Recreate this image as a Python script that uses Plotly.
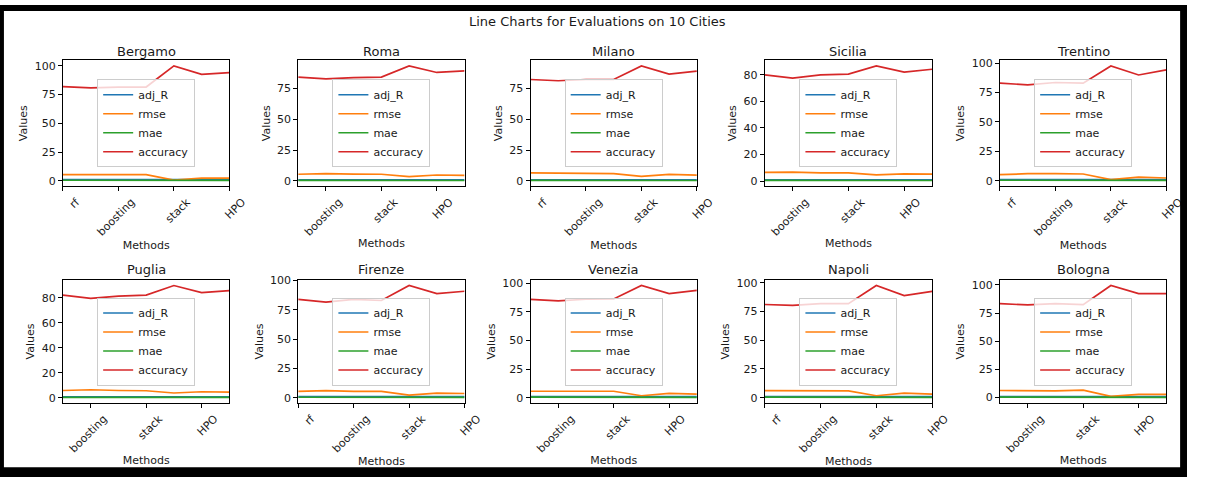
import plotly.graph_objects as go

# ---------------- data ----------------
cities = ["Bergamo", "Roma", "Milano", "Sicilia", "Trentino",
          "Puglia", "Firenze", "Venezia", "Napoli", "Bologna"]
method_pos = [0, 1, 2, 3, 4, 5, 6]
series_names = ["adj_R", "rmse", "mae", "accuracy"]

adj_R = [
    [0.92, 0.91, 0.92, 0.92, 0.99, 0.97, 0.97],
    [0.90, 0.89, 0.90, 0.90, 0.95, 0.92, 0.93],
    [0.90, 0.89, 0.90, 0.90, 0.95, 0.92, 0.93],
    [0.88, 0.87, 0.88, 0.88, 0.92, 0.90, 0.91],
    [0.91, 0.90, 0.91, 0.91, 0.99, 0.96, 0.97],
    [0.89, 0.88, 0.89, 0.89, 0.93, 0.91, 0.92],
    [0.91, 0.90, 0.91, 0.91, 0.98, 0.95, 0.96],
    [0.91, 0.90, 0.91, 0.91, 0.98, 0.95, 0.96],
    [0.90, 0.90, 0.91, 0.91, 0.98, 0.95, 0.96],
    [0.91, 0.90, 0.91, 0.90, 0.99, 0.96, 0.96],
]
rmse = [
    [5.2, 5.2, 5.2, 5.2, 0.5, 2.3, 2.3],
    [5.4, 5.9, 5.5, 5.4, 3.5, 4.8, 4.5],
    [6.6, 6.5, 6.0, 6.0, 3.7, 5.3, 4.8],
    [6.5, 6.7, 6.2, 6.2, 4.7, 5.5, 5.2],
    [5.1, 6.0, 6.0, 5.7, 1.0, 3.1, 2.3],
    [5.9, 6.5, 5.9, 5.7, 3.9, 4.9, 4.6],
    [5.5, 6.1, 5.5, 5.5, 2.2, 3.9, 3.6],
    [5.6, 5.6, 5.6, 5.6, 1.7, 3.7, 3.1],
    [6.2, 6.2, 5.9, 5.9, 1.7, 3.9, 3.1],
    [6.3, 6.0, 6.0, 6.6, 1.1, 2.9, 2.9],
]
mae = [
    [0.40, 0.41, 0.40, 0.40, 0.10, 0.25, 0.25],
    [0.45, 0.47, 0.45, 0.45, 0.30, 0.40, 0.38],
    [0.50, 0.50, 0.48, 0.48, 0.32, 0.42, 0.40],
    [0.50, 0.52, 0.49, 0.49, 0.38, 0.44, 0.42],
    [0.40, 0.45, 0.45, 0.43, 0.12, 0.28, 0.22],
    [0.46, 0.50, 0.46, 0.45, 0.32, 0.40, 0.38],
    [0.43, 0.47, 0.43, 0.43, 0.20, 0.32, 0.30],
    [0.44, 0.44, 0.44, 0.44, 0.16, 0.30, 0.26],
    [0.48, 0.48, 0.46, 0.46, 0.16, 0.32, 0.26],
    [0.49, 0.47, 0.47, 0.51, 0.12, 0.25, 0.25],
]
accuracy = [
    [81.9, 80.8, 81.6, 81.6, 100.0, 92.7, 94.2],
    [84.0, 82.5, 83.5, 84.0, 93.0, 87.7, 89.0],
    [82.0, 81.0, 82.0, 82.0, 93.0, 86.4, 88.8],
    [80.0, 77.5, 80.0, 80.5, 86.7, 82.0, 84.2],
    [83.0, 81.6, 83.6, 83.0, 97.7, 90.0, 94.3],
    [82.0, 79.5, 81.3, 82.0, 89.7, 84.0, 85.7],
    [84.0, 81.7, 84.0, 83.0, 95.8, 88.9, 90.9],
    [85.9, 84.5, 86.0, 86.2, 98.0, 91.0, 93.8],
    [81.0, 80.3, 81.7, 81.7, 97.5, 88.7, 92.4],
    [83.3, 82.2, 83.3, 82.5, 99.4, 92.2, 92.2],
]

tick_a_pos = [0, 2, 4, 6]
tick_a_text = ["rf", "boosting", "stack", "HPO"]
tick_b_pos = [1, 3, 5]
tick_b_text = ["boosting", "stack", "HPO"]
xtick_kind = ["a", "b", "a", "b", "a", "b", "a", "b", "a", "b"]
y_dtick = [25, 25, 25, 20, 25, 20, 25, 25, 25, 25]

# ---------------- layout geometry ----------------
W, H = 1206, 479
col_left = [64, 303, 539, 777, 1016]
col_right = [233, 472, 708, 947, 1185]
row_top = [56, 279]
row_bottom = [184, 404]
title_y = [47, 268]

colors = {"adj_R": "#1f77b4", "rmse": "#ff7f0e", "mae": "#2ca02c", "accuracy": "#d62728"}
series_data = {"adj_R": adj_R, "rmse": rmse, "mae": mae, "accuracy": accuracy}
FONT = "DejaVu Sans"
TXT = "#1a1a1a"

fig = go.Figure()
layout = dict(
    autosize=True,
    margin=dict(l=0, r=0, t=0, b=0),
    paper_bgcolor="white", plot_bgcolor="white",
    font=dict(family=FONT, size=11, color=TXT),
    showlegend=True,
)
annotations = []

for i, city in enumerate(cities):
    r, c = divmod(i, 5)
    n = i + 1
    xa = "x" if n == 1 else f"x{n}"
    ya = "y" if n == 1 else f"y{n}"
    lg = "legend" if n == 1 else f"legend{n}"
    for s in series_names:
        fig.add_trace(go.Scatter(
            x=method_pos, y=series_data[s][i], mode="lines", name=s,
            line=dict(color=colors[s], width=1.7),
            xaxis=xa, yaxis=ya, legend=lg, showlegend=True,
        ))
    vals = [v for s in series_names for v in series_data[s][i]]
    lo, hi = min(vals), max(vals)
    pad = 0.05 * (hi - lo)
    x0, x1 = col_left[c] / W, col_right[c] / W
    y0, y1 = 1 - row_bottom[r] / H, 1 - row_top[r] / H
    if xtick_kind[i] == "a":
        tv, tt = tick_a_pos, tick_a_text
    else:
        tv, tt = tick_b_pos, tick_b_text
    axis_common = dict(
        showline=True, linecolor="black", linewidth=1, mirror=True,
        showgrid=False, zeroline=False, ticks="outside", ticklen=4,
        tickwidth=1, tickcolor="black",
        tickfont=dict(family=FONT, size=11, color=TXT),
    )
    layout["xaxis" if n == 1 else f"xaxis{n}"] = dict(
        domain=[x0, x1], anchor=ya, range=[0, 6],
        tickmode="array", tickvals=tv, ticktext=tt, tickangle=-45,
        ticklabelshift=13,
        title=dict(text="Methods", font=dict(family=FONT, size=11, color=TXT), standoff=1),
        **axis_common,
    )
    layout["yaxis" if n == 1 else f"yaxis{n}"] = dict(
        domain=[y0, y1], anchor=xa, range=[lo - pad, hi + pad],
        tick0=0, dtick=y_dtick[i],
        title=dict(text="Values", font=dict(family=FONT, size=11, color=TXT), standoff=4),
        **axis_common,
    )
    layout[lg] = dict(
        x=(x0 + x1) / 2, y=(y0 + y1) / 2, xanchor="center", yanchor="middle",
        xref="paper", yref="paper",
        bgcolor="rgba(255,255,255,0.8)", bordercolor="#cccccc", borderwidth=1,
        font=dict(family=FONT, size=11, color=TXT), itemwidth=30,
        traceorder="normal", tracegroupgap=0,
    )
    annotations.append(dict(
        text=city, xref="paper", yref="paper",
        x=(x0 + x1) / 2, y=1 - title_y[r] / H, xanchor="center", yanchor="middle",
        showarrow=False, font=dict(family=FONT, size=13, color=TXT),
    ))

annotations.append(dict(
    text="Line Charts for Evaluations on 10 Cities", xref="paper", yref="paper",
    x=607 / W, y=1 - 17 / H, xanchor="center", yanchor="middle",
    showarrow=False, font=dict(family=FONT, size=13, color=TXT),
))
layout["annotations"] = annotations

# black frame around the image
frame = []
for (a, b, cc, d) in [(0, 0, W, 6), (0, 469, W, H), (0, 0, 4, H), (1199, 0, W, H)]:
    frame.append(dict(type="rect", xref="paper", yref="paper",
                      x0=a / W, x1=cc / W, y0=1 - d / H, y1=1 - b / H,
                      fillcolor="black", line=dict(width=0), layer="above"))
layout["shapes"] = frame

fig.update_layout(**layout)
fig.write_html(
    "out.html",
    default_width="100vw",
    default_height="100vh",
    config={"displayModeBar": False, "responsive": True},
    post_script=(
        "document.documentElement.style.margin='0';"
        "document.documentElement.style.overflow='hidden';"
        "document.body.style.margin='0';"
        "document.body.style.overflow='hidden';"
        "window.dispatchEvent(new Event('resize'));"
    ),
)
